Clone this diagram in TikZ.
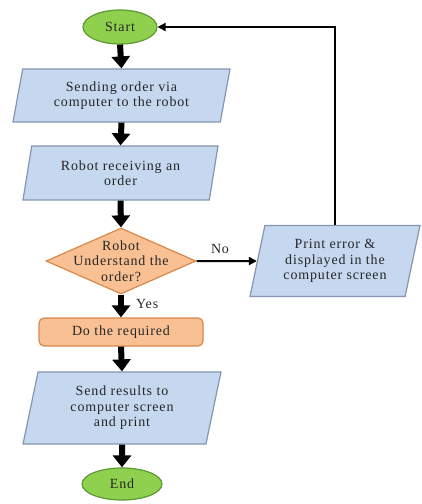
\documentclass[tikz,border=0pt]{standalone}
\usepackage{fontspec}
\setmainfont{Liberation Serif}[LetterSpace=6.0]
\usetikzlibrary{shapes.geometric,arrows.meta}

\definecolor{termfill}{HTML}{8FD14F}
\definecolor{termline}{HTML}{5B9B30}
\definecolor{iofill}{HTML}{C5D8EF}
\definecolor{ioline}{HTML}{8496B0}
\definecolor{procfill}{HTML}{F9C193}
\definecolor{procline}{HTML}{D9884A}
\definecolor{txt}{HTML}{262626}

\tikzset{
  base/.style={font=\fontsize{14}{15.5}\selectfont, text=txt, align=center, inner sep=0pt, line width=1.2pt},
  terminal/.style={base, ellipse, draw=termline, fill=termfill},
  iobox/.style={base, trapezium, trapezium left angle=71, trapezium right angle=109,
    trapezium stretches body, draw=ioline, fill=iofill},
  procbox/.style={base, rectangle, rounded corners=5pt, draw=procline, fill=procfill},
  decision/.style={base, diamond, draw=procline, fill=procfill},
  flow/.style={line width=6pt, -{Triangle[width=18pt,length=12pt]}},
  thinflow/.style={line width=2pt, -{Triangle[width=8pt,length=8pt]}},
  tag/.style={font=\fontsize{14}{15.5}\selectfont, text=txt, inner sep=0pt}
}

\begin{document}
\begin{tikzpicture}[x=1pt,y=-1pt]
  \useasboundingbox (0,0) rectangle (421,504);

  % main column
  \node[terminal, minimum width=74pt, minimum height=34pt] (start) at (120,27) {Start};
  \node[iobox, minimum width=217pt, minimum height=53pt] (send) at (121.5,95.5)
    {Sending order via\\computer to the robot};
  \node[iobox, minimum width=195pt, minimum height=54pt] (recv) at (120.5,173)
    {Robot receiving an\\order};
  \node[decision, minimum width=150pt, minimum height=66pt] (dec) at (121,261) {};
  \node[base, line width=0pt] (dectext) at (121,261) {Robot\\Understand the\\order?};
  \node[procbox, minimum width=164pt, minimum height=28pt] (do) at (121,332) {Do the required};
  \node[iobox, minimum width=198pt, minimum height=72pt] (res) at (122,408)
    {Send results to\\computer screen\\and print};
  \node[terminal, minimum width=80pt, minimum height=32pt] (end) at (122,484) {End};

  % error branch
  \node[iobox, minimum width=170pt, minimum height=71pt] (err) at (335,261)
    {Print error \&\\displayed in the\\computer screen};

  \draw[flow] (start.south) -- (send.north);
  \draw[flow] (send.south) -- (recv.north);
  \draw[flow] (recv.south) -- (dec.north);
  \draw[flow] (dec.south) -- (do.north);
  \draw[flow] (do.south) -- (res.north);
  \draw[flow] (res.south) -- (end.north);

  \draw[thinflow] (dec.east) -- (err.west);
  \draw[thinflow] (err.north) |- (start.east);

  \node[tag, anchor=west] (yes) at (136,304) {Yes};
  \node[tag] (no) at (220,249) {No};
\end{tikzpicture}
\end{document}
